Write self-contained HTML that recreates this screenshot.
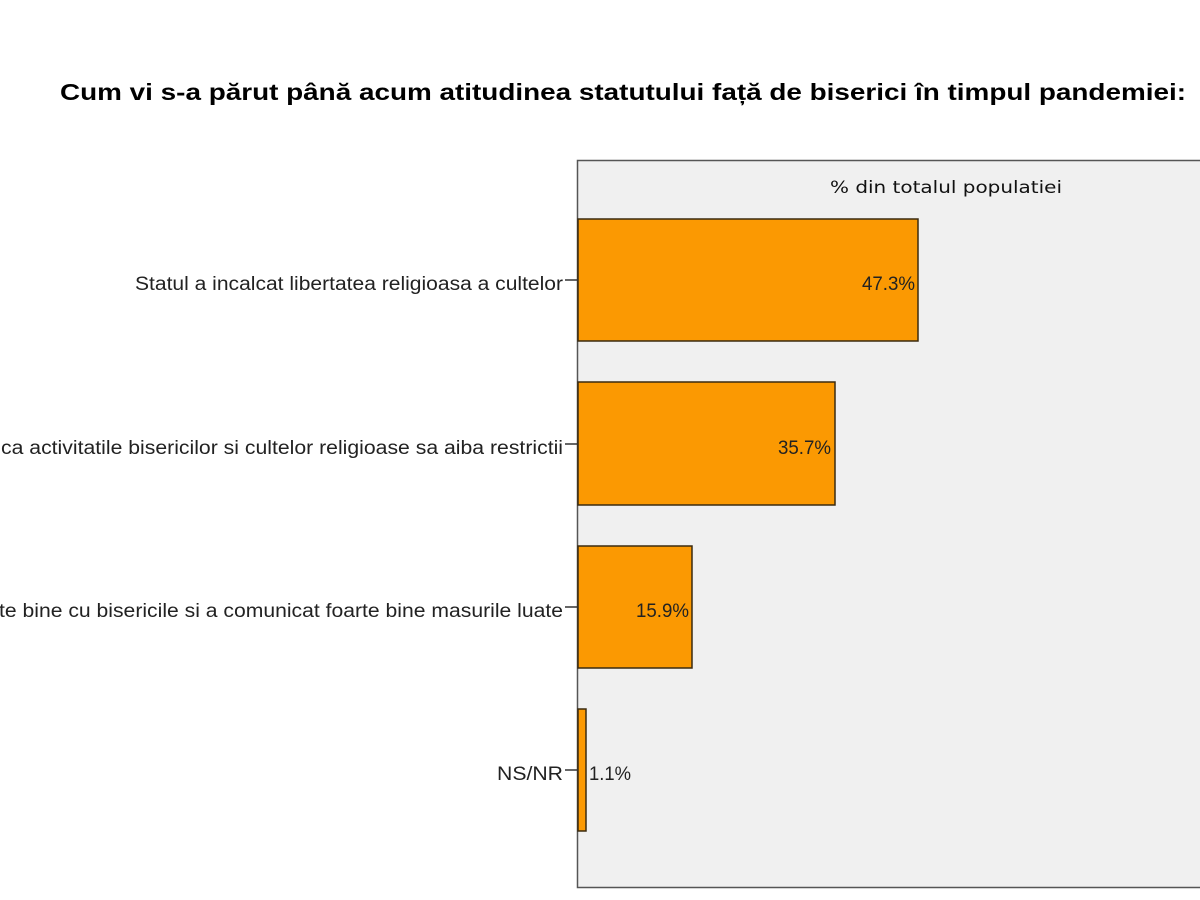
<!DOCTYPE html>
<html><head><meta charset="utf-8"><style>
html,body{margin:0;padding:0;background:#fff;width:1200px;height:900px;overflow:hidden}
</style></head><body>
<svg width="1200" height="900" xmlns="http://www.w3.org/2000/svg" font-family="Liberation Sans, sans-serif">
<text x="623" y="100" text-anchor="middle" font-size="23" font-weight="bold" fill="#000" textLength="1126" lengthAdjust="spacingAndGlyphs">Cum vi s-a părut până acum atitudinea statutului față de biserici în timpul pandemiei:</text>
<rect x="577.5" y="160.5" width="640" height="727" fill="#f0f0f0" stroke="#555" stroke-width="1.5"/>
<text x="946" y="193" text-anchor="middle" font-size="17" fill="#111" font-family="DejaVu Sans, sans-serif" textLength="232" lengthAdjust="spacingAndGlyphs">% din totalul populatiei</text>
<g fill="#fb9902" stroke="#3a2a10" stroke-width="1.5">
<rect x="578" y="219" width="340" height="122"/>
<rect x="578" y="382" width="257" height="123"/>
<rect x="578" y="546" width="114" height="122"/>
<rect x="578" y="709" width="8" height="122"/>
</g>
<g stroke="#333" stroke-width="1.5">
<line x1="565" y1="280" x2="578" y2="280"/>
<line x1="565" y1="444" x2="578" y2="444"/>
<line x1="565" y1="607" x2="578" y2="607"/>
<line x1="565" y1="770" x2="578" y2="770"/>
</g>
<g font-size="19" fill="#222" lengthAdjust="spacingAndGlyphs">
<text x="135" y="290" textLength="428" lengthAdjust="spacingAndGlyphs">Statul a incalcat libertatea religioasa a cultelor</text>
<text x="1" y="454" textLength="562" lengthAdjust="spacingAndGlyphs">ca activitatile bisericilor si cultelor religioase sa aiba restrictii</text>
<text x="-1" y="617" textLength="564" lengthAdjust="spacingAndGlyphs">te bine cu bisericile si a comunicat foarte bine masurile luate</text>
<text x="497" y="780" textLength="66" lengthAdjust="spacingAndGlyphs">NS/NR</text>
<text x="862" y="290" textLength="53" lengthAdjust="spacingAndGlyphs">47.3%</text>
<text x="778" y="454" textLength="53" lengthAdjust="spacingAndGlyphs">35.7%</text>
<text x="636" y="617" textLength="53" lengthAdjust="spacingAndGlyphs">15.9%</text>
<text x="589" y="780" textLength="42" lengthAdjust="spacingAndGlyphs">1.1%</text>
</g>
</svg>
</body></html>
